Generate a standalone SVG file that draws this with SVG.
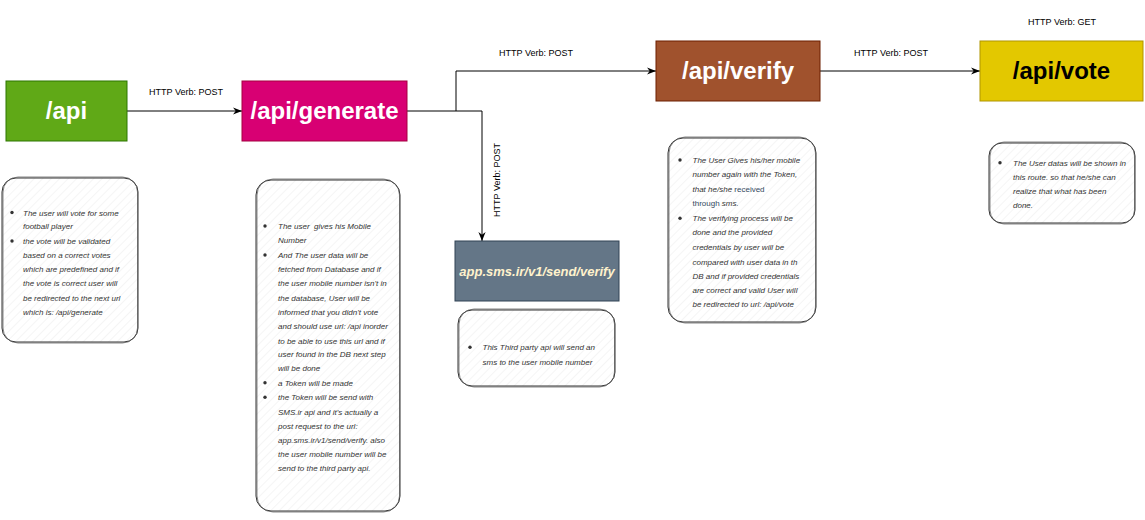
<svg xmlns="http://www.w3.org/2000/svg" width="1145" height="520" viewBox="0 0 1145 520">
<style>
.title{font-family:"Liberation Sans",Arial,sans-serif;font-weight:bold;font-size:24px;text-anchor:middle}
.lbl{font-family:"Liberation Sans",Arial,sans-serif;font-size:9px;fill:#000;text-anchor:middle}
.note{font-family:"Liberation Sans",Arial,sans-serif;font-size:8px;font-style:italic;fill:#333}
.plain{font-style:normal;fill:#34495e}
.nb{fill:url(#hatch);stroke:#333;stroke-width:1}
.nb2{fill:none;stroke:#555;stroke-width:0.7}
.conn{fill:none;stroke:#000;stroke-width:1}
.dot{fill:#333}
</style>
<defs>
<pattern id="hatch" patternUnits="userSpaceOnUse" width="6" height="6" patternTransform="rotate(45)">
<rect width="6" height="6" fill="#fff"/>
<line x1="0" y1="0" x2="0" y2="6" stroke="#ebebeb" stroke-width="1"/>
</pattern>
<marker id="arr" viewBox="0 0 10 10" refX="10" refY="5" markerWidth="9" markerHeight="9" markerUnits="userSpaceOnUse" orient="auto">
<path d="M0,1 L10,5 L0,9 L3,5 z" fill="#000"/>
</marker>
</defs>
<rect width="1145" height="520" fill="#fff"/>

<g id="connectors">
<path class="conn" d="M127,111 H242" marker-end="url(#arr)"/>
<path class="conn" d="M407,111 H482 V241" marker-end="url(#arr)"/>
<path class="conn" d="M456,111 V71 H656" marker-end="url(#arr)"/>
<path class="conn" d="M820,71 H980" marker-end="url(#arr)"/>
<text class="lbl" x="186" y="95">HTTP Verb: POST</text>
<text class="lbl" x="536" y="56">HTTP Verb: POST</text>
<text class="lbl" x="891" y="56">HTTP Verb: POST</text>
<text class="lbl" x="1062" y="25">HTTP Verb: GET</text>
<text class="lbl" transform="translate(500,180) rotate(-90)">HTTP Verb: POST</text>
</g>

<g id="node-api">
<rect x="6" y="81" width="121" height="60" fill="#60a917" stroke="#2d7600"/>
<text class="title" x="66.5" y="119" fill="#fff">/api</text>
</g>
<g id="node-generate">
<rect x="242" y="81" width="165" height="60" fill="#d80073" stroke="#a50040"/>
<text class="title" x="324.5" y="119" fill="#fff">/api/generate</text>
</g>
<g id="node-verify">
<rect x="656" y="41" width="164" height="60" fill="#a0522d" stroke="#6d1f00"/>
<text class="title" x="738" y="79" fill="#fff">/api/verify</text>
</g>
<g id="node-vote">
<rect x="980" y="41" width="163" height="60" fill="#e3c800" stroke="#b09500"/>
<text class="title" x="1061.5" y="79" fill="#000">/api/vote</text>
</g>
<g id="node-sms">
<rect x="455" y="241" width="164" height="60" fill="#647687" stroke="#314354"/>
<text x="537" y="276" font-family="'Liberation Sans',Arial,sans-serif" font-size="13" font-weight="bold" font-style="italic" fill="#fff2cc" text-anchor="middle">app.sms.ir/v1/send/verify</text>
</g>

<g id="note-api">
<rect class="nb" x="2" y="178" width="136" height="164" rx="14"/>
<rect class="nb2" x="3" y="177" width="134.5" height="166" rx="15"/>
<circle class="dot" cx="12" cy="212.5" r="1.7"/>
<circle class="dot" cx="12" cy="241" r="1.7"/>
<text class="note" x="23"><tspan x="23" y="215.7">The user will vote for some</tspan><tspan x="23" y="228.7">football player</tspan><tspan x="23" y="244">the vote will be validated</tspan><tspan x="23" y="258">based on a correct votes</tspan><tspan x="23" y="272.3">which are predefined and if</tspan><tspan x="23" y="286.3">the vote is correct user will</tspan><tspan x="23" y="300.7">be redirected to the next url</tspan><tspan x="23" y="315.3">which is: /api/generate</tspan></text>
</g>

<g id="note-generate">
<rect class="nb" x="256" y="180" width="144" height="331" rx="15"/>
<rect class="nb2" x="257" y="179" width="142.5" height="333" rx="16"/>
<circle class="dot" cx="265" cy="226" r="1.7"/>
<circle class="dot" cx="265" cy="255" r="1.7"/>
<circle class="dot" cx="265" cy="382.7" r="1.7"/>
<circle class="dot" cx="265" cy="397.3" r="1.7"/>
<text class="note" xml:space="preserve"><tspan x="278" y="229">The user  gives his Mobile</tspan><tspan x="278" y="243.3">Number</tspan><tspan x="278" y="258">And The user data will be</tspan><tspan x="278" y="272">fetched from Database and if</tspan><tspan x="278" y="286.3">the user mobile number isn't in</tspan><tspan x="278" y="300.7">the database, User will be</tspan><tspan x="278" y="314.7">informed that you didn't vote</tspan><tspan x="278" y="329">and should use url: /api inorder</tspan><tspan x="278" y="343.7">to be able to use this url and if</tspan><tspan x="278" y="357">user found in the DB next step</tspan><tspan x="278" y="371.3">will be done</tspan><tspan x="278" y="385.7">a Token will be made</tspan><tspan x="278" y="400.3">the Token will be send with</tspan><tspan x="278" y="414.7">SMS.ir api and it's actually a</tspan><tspan x="278" y="429">post request to the url:</tspan><tspan x="278" y="443">app.sms.ir/v1/send/verify. also</tspan><tspan x="278" y="457.3">the user mobile number will be</tspan><tspan x="278" y="471.3">send to the third party api.</tspan></text>
</g>

<g id="note-sms">
<rect class="nb" x="458" y="310" width="157" height="76" rx="14"/>
<rect class="nb2" x="459" y="309" width="155.5" height="78" rx="15"/>
<circle class="dot" cx="470" cy="347.3" r="1.7"/>
<text class="note"><tspan x="482.5" y="350.3">This Third party api will send an</tspan><tspan x="482.5" y="364.7">sms to the user mobile number</tspan></text>
</g>

<g id="note-verify">
<rect class="nb" x="668" y="138" width="148" height="184" rx="15"/>
<rect class="nb2" x="669" y="137" width="146.5" height="186" rx="16"/>
<circle class="dot" cx="680" cy="160" r="1.7"/>
<circle class="dot" cx="680" cy="218.3" r="1.7"/>
<text class="note"><tspan x="692.5" y="163">The User Gives his/her mobile</tspan><tspan x="692.5" y="177.3">number again with the Token,</tspan><tspan x="692.5" y="192">that he/she <tspan class="plain">received</tspan></tspan><tspan x="692.5" y="206.3"><tspan class="plain">through</tspan> sms.</tspan><tspan x="692.5" y="221.3">The verifying process will be</tspan><tspan x="692.5" y="235.3">done and the provided</tspan><tspan x="692.5" y="250.3">credentials by user will be</tspan><tspan x="692.5" y="264.7">compared with user data in th</tspan><tspan x="692.5" y="278.7">DB and if provided credentials</tspan><tspan x="692.5" y="293">are correct and valid User will</tspan><tspan x="692.5" y="307">be redirected to url: /api/vote</tspan></text>
</g>

<g id="note-vote">
<rect class="nb" x="989" y="143" width="146" height="80" rx="13"/>
<rect class="nb2" x="990" y="142" width="144.5" height="82" rx="14"/>
<circle class="dot" cx="1000" cy="162.7" r="1.7"/>
<text class="note"><tspan x="1013" y="165.7">The User datas will be shown in</tspan><tspan x="1013" y="179.7">this route. so that he/she can</tspan><tspan x="1013" y="193.7">realize that what has been</tspan><tspan x="1013" y="208">done.</tspan></text>
</g>
</svg>
